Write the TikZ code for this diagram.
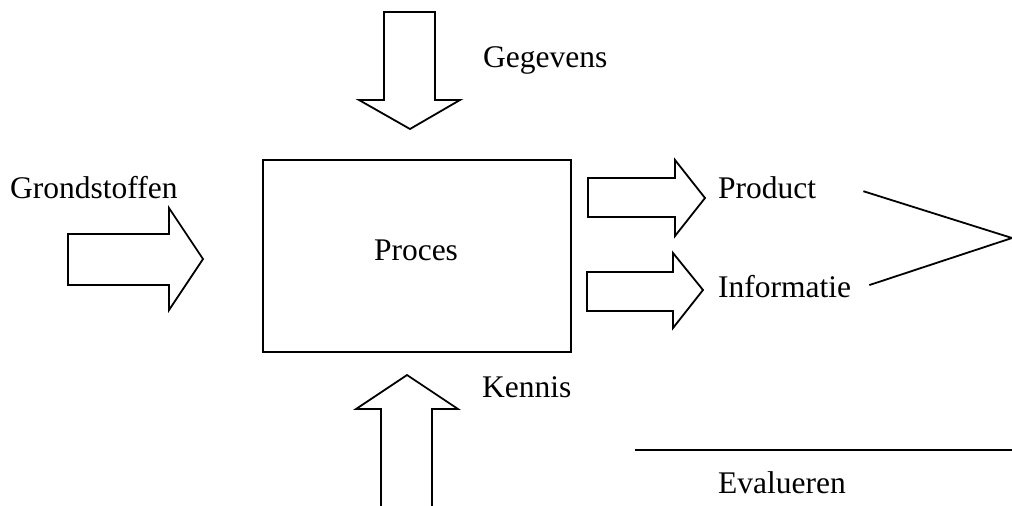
\documentclass[tikz,border=0pt]{standalone}
\usepackage{fontspec}
\setmainfont{Liberation Serif}
\usepackage{tikz}

\begin{document}
\begin{tikzpicture}[
    x=1pt, y=-1pt,
    lbl/.style={inner sep=0pt, anchor=base west, font=\fontsize{31.5}{38}\selectfont},
    blockarrow/.style={draw, line width=1.8pt, line join=miter, fill=white},
    thinline/.style={line width=1.8pt}
]
\useasboundingbox (0,0) rectangle (1012,506);

% Proces box
\node[draw, line width=1.8pt, minimum width=308pt, minimum height=192pt, inner sep=0pt] (proces) at (417,256) {};
\node[lbl, anchor=base] (proceslbl) at (416,260) {Proces};

% Gegevens (from above)
\draw[blockarrow] (384,12) -- (435,12) -- (435,100) -- (460,100) -- (410,129) -- (359,100) -- (384,100) -- cycle;
\node[lbl] (gegevens) at (483,67) {Gegevens};

% Grondstoffen (from the left)
\draw[blockarrow] (68,234) -- (169,234) -- (169,208) -- (203,259) -- (169,310) -- (169,285) -- (68,285) -- cycle;
\node[lbl] (grondstoffen) at (10,198) {Grondstoffen};

% Kennis (from below)
\draw[blockarrow] (407,375) -- (458,409) -- (432,409) -- (432,512) -- (381,512) -- (381,409) -- (356,409) -- cycle;
\node[lbl] (kennis) at (482,397) {Kennis};

% Product and Informatie (outputs)
\draw[blockarrow] (588,178) -- (675,178) -- (675,160) -- (705,198) -- (675,236) -- (675,217) -- (588,217) -- cycle;
\draw[blockarrow] (587,272) -- (673,272) -- (673,253) -- (703,290) -- (673,328) -- (673,311) -- (587,311) -- cycle;
\node[lbl] (product) at (718,198) {Product};
\node[lbl] (informatie) at (718,297) {Informatie};

% Converging lines
\coordinate (apex) at (1012,238);
\draw[thinline] ([xshift=47pt, yshift=-4pt]product.east) -- (apex);
\draw[thinline] ([xshift=18pt, yshift=1pt]informatie.east) -- (apex);

% Evalueren
\coordinate (evalstart) at (635,450);
\coordinate (evalend) at (1014,450);
\draw[thinline] (evalstart) -- (evalend);
\node[lbl] (evalueren) at (718,493) {Evalueren};

\end{tikzpicture}
\end{document}
